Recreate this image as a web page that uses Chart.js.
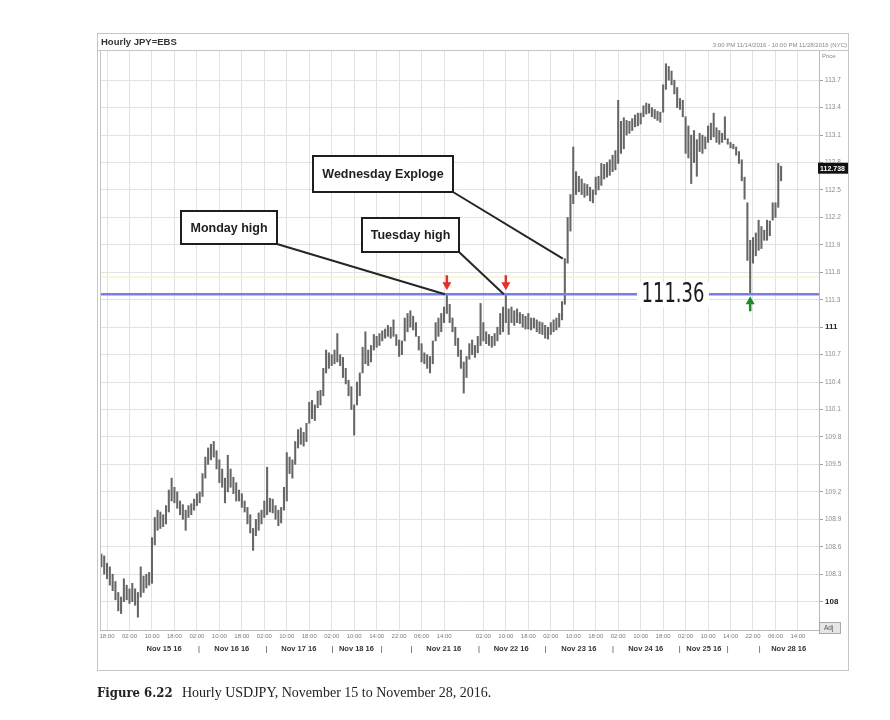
<!DOCTYPE html>
<html lang="en">
<head>
  <meta charset="UTF-8"/>
  <title>Hourly USDJPY</title>
  <script src="https://cdn.jsdelivr.net/npm/chart.js"></script>
  <style>
    body { margin: 0; background: #fff; }
    #wrap { position: relative; width: 890px; height: 720px; }
  </style>
</head>
<body>
  <div id="wrap"><canvas id="chart" width="890" height="720"></canvas></div>

  <script>
    // Hourly bars, 3:00 PM 11/14/2016 onwards (index = bar number)
    const highs = [
      108.55,108.52,108.50,108.42,108.38,108.30,108.22,108.10,108.05,108.25, // 0
      108.18,108.14,108.20,108.14,108.10,108.38,108.28,108.30,108.32,108.70, // 10
      108.92,109.00,108.98,108.95,109.05,109.22,109.35,109.25,109.20,109.10, // 20
      109.06,109.00,109.05,109.07,109.12,109.18,109.20,109.40,109.58,109.68, // 30
      109.72,109.75,109.65,109.55,109.45,109.35,109.60,109.45,109.36,109.30, // 40
      109.22,109.18,109.10,109.03,108.95,108.80,108.90,108.97,109.00,109.10, // 50
      109.47,109.13,109.12,109.05,109.00,109.03,109.25,109.63,109.58,109.55, // 60
      109.75,109.88,109.90,109.85,109.95,110.18,110.20,110.15,110.30,110.31, // 70
      110.55,110.75,110.72,110.70,110.75,110.93,110.70,110.67,110.55,110.42, // 80
      110.35,110.15,110.40,110.50,110.78,110.95,110.75,110.80,110.92,110.90, // 90
      110.93,110.96,110.98,111.02,111.00,111.08,110.92,110.86,110.85,111.10, // 100
      111.15,111.18,111.12,111.05,110.90,110.82,110.72,110.70,110.68,110.85, // 110
      111.05,111.10,111.15,111.22,111.36,111.25,111.10,111.00,110.88,110.75, // 120
      110.62,110.68,110.82,110.86,110.80,110.90,111.26,111.05,110.95,110.92, // 130
      110.90,110.93,111.00,111.15,111.22,111.36,111.20,111.22,111.18,111.20, // 140
      111.16,111.14,111.12,111.15,111.10,111.10,111.08,111.06,111.05,111.02, // 150
      111.00,111.05,111.08,111.10,111.15,111.28,111.75,112.20,112.45,112.97, // 160
      112.70,112.65,112.62,112.57,112.56,112.53,112.50,112.64,112.65,112.79, // 170
      112.78,112.80,112.83,112.88,112.93,113.48,113.25,113.29,113.26,113.25, // 180
      113.28,113.32,113.34,113.34,113.42,113.45,113.44,113.40,113.38,113.36, // 190
      113.35,113.65,113.88,113.85,113.80,113.70,113.62,113.50,113.48,113.30, // 200
      113.20,113.10,113.15,113.05,113.12,113.10,113.08,113.20,113.23,113.34, // 210
      113.18,113.15,113.12,113.30,113.06,113.02,113.00,112.97,112.92,112.83, // 220
      112.64,112.36,111.95,111.98,112.03,112.17,112.10,112.06,112.17,112.16, // 230
      112.36,112.36,112.79,112.76                                            // 240
    ];
    const lows = [
      108.42,108.38,108.30,108.25,108.18,108.12,108.02,107.90,107.87,108.00, // 0
      108.02,107.98,108.00,107.96,107.83,108.05,108.10,108.15,108.18,108.20, // 10
      108.62,108.78,108.80,108.82,108.85,108.98,109.10,109.08,109.02,108.95, // 20
      108.90,108.78,108.92,108.95,109.00,109.05,109.08,109.15,109.35,109.50, // 30
      109.55,109.58,109.45,109.30,109.25,109.08,109.20,109.25,109.18,109.10, // 40
      109.10,109.03,108.98,108.85,108.75,108.56,108.72,108.78,108.85,108.92, // 50
      108.95,108.98,108.97,108.90,108.83,108.86,109.00,109.10,109.40,109.35, // 60
      109.50,109.68,109.72,109.70,109.75,109.95,110.00,109.98,110.12,110.15, // 70
      110.25,110.50,110.55,110.58,110.60,110.62,110.58,110.45,110.38,110.25, // 80
      110.10,109.82,110.15,110.25,110.50,110.60,110.58,110.62,110.75,110.78, // 90
      110.80,110.85,110.88,110.90,110.88,110.90,110.80,110.68,110.70,110.85, // 100
      110.95,111.00,110.97,110.90,110.75,110.62,110.60,110.55,110.50,110.60, // 110
      110.85,110.90,110.95,111.05,111.15,111.05,110.95,110.80,110.68,110.55, // 120
      110.28,110.45,110.65,110.70,110.67,110.72,110.80,110.85,110.82,110.80, // 130
      110.78,110.80,110.85,110.92,110.95,111.05,110.92,111.05,111.02,111.05, // 140
      111.04,111.00,110.98,110.98,110.97,110.99,110.95,110.93,110.92,110.88, // 150
      110.87,110.92,110.95,110.97,111.00,111.08,111.25,111.70,112.05,112.35, // 160
      112.45,112.48,112.45,112.42,112.44,112.38,112.36,112.45,112.50,112.55, // 170
      112.62,112.64,112.66,112.70,112.72,112.79,112.90,112.95,113.10,113.12, // 180
      113.15,113.19,113.20,113.22,113.30,113.33,113.34,113.30,113.28,113.26, // 190
      113.24,113.35,113.60,113.70,113.65,113.55,113.40,113.38,113.30,112.90, // 200
      112.85,112.57,112.80,112.65,112.92,112.90,112.95,113.02,113.05,113.08, // 210
      113.02,113.00,113.02,113.05,113.00,112.96,112.95,112.88,112.79,112.60, // 220
      112.40,111.73,111.36,111.70,111.78,111.84,111.86,111.95,111.95,112.00, // 230
      112.17,112.20,112.31,112.60                                            // 240
    ];

    const levelPrice = 111.36;   // blue support line
    const guidePrice = 111.55;   // faint yellow line
    const lastPrice = '112.738';

    // price axis
    const yTicks = [108,108.3,108.6,108.9,109.2,109.5,109.8,110.1,110.4,110.7,
                    111,111.3,111.6,111.9,112.2,112.5,112.8,113.1,113.4,113.7];

    // time axis (bar numbers and their labels)
    const timeTickBars = [3,11,19,27,35,43,51,59,67,75,83,91,99,107,115,123,
                          137,145,153,161,169,177,185,193,201,209,217,225,233,241,249];
    const timeTickLabels = ['18:00','02:00','10:00','18:00','02:00','10:00','18:00','02:00',
                            '10:00','18:00','02:00','10:00','14:00','22:00','06:00','14:00',
                            '02:00','10:00','18:00','02:00','10:00','18:00','02:00','10:00',
                            '18:00','02:00','10:00','14:00','22:00','06:00','14:00'];

    // date row
    const dateLabels = ['Nov 15 16','Nov 16 16','Nov 17 16','Nov 18 16','Nov 21 16',
                        'Nov 22 16','Nov 23 16','Nov 24 16','Nov 25 16','Nov 28 16'];
    const dateLabelBars = [23.3,47.4,71.3,91.8,122.9,146.9,171,194.8,215.5,245.7];
    const daySeparators = [35.7,59.8,83.3,100.8,111.4,135.4,159.1,183.1,206.9,224,235.4];

    // callouts
    const callouts = [
      { text: 'Monday high',       bar: 124 },
      { text: 'Tuesday high',      bar: 145 },
      { text: 'Wednesday Exploge', bar: 166 }
    ];
    const calloutBoxes = [[181,211,96,33],[362,218,97,34],[313,156,140,36]];
    const redArrowBars = [124, 145];
    const greenArrowBar = 232;

    const bars = highs.map((h, i) => ({ x: i, y: [lows[i], h] }));

    const dateTicks = daySeparators.map(v => ({ v, label: '|', sep: true }))
      .concat(dateLabels.map((l, i) => ({ v: dateLabelBars[i], label: l, sep: false })))
      .sort((a, b) => a.v - b.v);

    const FONT = "'Liberation Sans', Arial, sans-serif";
    const isMajor = ctx => !!(ctx && ctx.tick && Math.abs(ctx.tick.value % 3) < 1e-6);

    function arrow(c, x, yTip, dir, color) {
      // dir 1 = points down, -1 = points up
      c.save();
      c.fillStyle = color; c.strokeStyle = color; c.lineWidth = 2.5;
      c.beginPath();
      c.moveTo(x, yTip - dir * 15); c.lineTo(x, yTip - dir * 7); c.stroke();
      c.beginPath();
      c.moveTo(x, yTip); c.lineTo(x - 4.5, yTip - dir * 8); c.lineTo(x + 4.5, yTip - dir * 8);
      c.closePath(); c.fill();
      c.restore();
    }

    const overlay = {
      id: 'overlay',
      beforeDraw(chart) {
        const c = chart.ctx;
        c.save();
        c.fillStyle = '#fff';
        c.fillRect(0, 0, chart.width, chart.height);
        c.restore();
      },
      afterDatasetsDraw(chart) {
        const c = chart.ctx, xs = chart.scales.x, ys = chart.scales.y;
        const yLevel = ys.getPixelForValue(levelPrice);

        // level label breaking the blue line
        c.save();
        c.fillStyle = '#fff';
        c.fillRect(637, yLevel - 12, 72, 25);
        c.font = "26px 'Liberation Sans Narrow', 'DejaVu Sans Condensed', sans-serif";
        c.fillStyle = '#1a1a1a';
        c.textAlign = 'center'; c.textBaseline = 'middle';
        const w = c.measureText(levelPrice.toFixed(2)).width;
        const k = Math.min(1, 63 / w);
        c.translate(673, yLevel + 1);
        c.scale(k, 1);
        c.fillText(levelPrice.toFixed(2), 0, 0);
        c.restore();

        // leader lines then boxes
        c.save();
        c.strokeStyle = '#262626'; c.lineWidth = 2;
        callouts.forEach((co, i) => {
          const [bx, by, bw, bh] = calloutBoxes[i];
          c.beginPath();
          c.moveTo(bx + bw, by + bh);
          c.lineTo(xs.getPixelForValue(co.bar) - 2, ys.getPixelForValue(highs[co.bar]));
          c.stroke();
        });
        callouts.forEach((co, i) => {
          const [bx, by, bw, bh] = calloutBoxes[i];
          c.fillStyle = '#fff';
          c.fillRect(bx, by, bw, bh);
          c.strokeStyle = '#1e1e1e';
          c.strokeRect(bx, by, bw, bh);
          c.fillStyle = '#1e1e1e';
          c.font = "bold 12.5px " + FONT;
          c.textAlign = 'center'; c.textBaseline = 'middle';
          c.fillText(co.text, bx + bw / 2, by + bh / 2 + 1);
        });
        c.restore();

        redArrowBars.forEach(b => arrow(c, xs.getPixelForValue(b), yLevel - 4, 1, '#e2302a'));
        arrow(c, xs.getPixelForValue(greenArrowBar), yLevel + 2, -1, '#1e8a2a');
      },
      afterDraw(chart) {
        const c = chart.ctx, a = chart.chartArea, ys = chart.scales.y;
        c.save();
        // outer frame and plot edges
        c.strokeStyle = '#c6c6c6'; c.lineWidth = 1;
        c.strokeRect(97.5, 33.5, 751, 637);
        c.beginPath();
        c.moveTo(97.5, a.top + 0.5); c.lineTo(848.5, a.top + 0.5);
        c.moveTo(a.left + 0.5, a.top); c.lineTo(a.left + 0.5, a.bottom);
        c.stroke();

        // header
        c.fillStyle = '#333';
        c.font = "bold 9.5px " + FONT;
        c.textBaseline = 'middle';
        c.fillText('Hourly JPY=EBS', 101, 42);
        c.fillStyle = '#888';
        c.font = "6px " + FONT;
        c.textAlign = 'right';
        c.fillText('3:00 PM 11/14/2016 - 10:00 PM 11/28/2016 (NYC)', 847, 45);
        c.textAlign = 'left';
        c.fillText('Price', 822, 56);

        // last price box
        const yl = ys.getPixelForValue(parseFloat(lastPrice));
        c.fillStyle = '#111';
        c.fillRect(818, yl - 5.5, 30, 11);
        c.fillStyle = '#fff';
        c.font = "bold 7px " + FONT;
        c.fillText(lastPrice, 820, yl + 0.5);

        // Adj button
        c.fillStyle = '#e6e6e6';
        c.fillRect(819, 622, 21, 11);
        c.strokeStyle = '#a8a8a8';
        c.strokeRect(819.5, 622.5, 21, 11);
        c.fillStyle = '#555';
        c.font = "6.5px " + FONT;
        c.fillText('Adj', 824, 628);

        // caption
        c.fillStyle = '#222';
        c.textBaseline = 'alphabetic';
        c.font = "bold 13px 'DejaVu Serif Condensed', 'Liberation Serif', serif";
        c.fillText('Figure 6.22', 97, 697);
        c.font = "14px 'Liberation Serif', serif";
        c.fillText('Hourly USDJPY, November 15 to November 28, 2016.', 182, 697);
        c.restore();
      }
    };

    new Chart(document.getElementById('chart'), {
      type: 'bar',
      data: {
        datasets: [
          { type: 'line', data: [{ x: 0.5, y: guidePrice }, { x: 256.5, y: guidePrice }],
            borderColor: '#f2eec0', borderWidth: 1, pointRadius: 0, order: 3 },
          { data: bars, backgroundColor: '#666', barThickness: 1.4, order: 2 },
          { type: 'line', data: [{ x: 0.5, y: levelPrice }, { x: 256.5, y: levelPrice }],
            borderColor: '#7b7af0', borderWidth: 2.5, pointRadius: 0, order: 1 }
        ]
      },
      options: {
        responsive: false, animation: false,
        layout: { padding: { left: 100, top: 50, right: 31, bottom: 62 } },
        plugins: { legend: { display: false }, tooltip: { enabled: false } },
        scales: {
          x: {
            type: 'linear', position: 'bottom', min: 0.5, max: 256.5, weight: 0, offset: false,
            afterBuildTicks: s => { s.ticks = timeTickBars.map(v => ({ value: v })); },
            afterFit: s => { s.height = 12; },
            ticks: {
              autoSkip: false, maxRotation: 0, padding: 3, color: '#7a7a7a',
              font: { size: 6, family: FONT },
              callback: (v, i) => timeTickLabels[i]
            },
            grid: { color: '#e2e2e2', drawTicks: false, offset: false },
            border: { color: '#b8b8b8' }
          },
          xd: {
            type: 'linear', axis: 'x', position: 'bottom', min: 0.5, max: 256.5, weight: 1, offset: false,
            afterBuildTicks: s => { s.ticks = dateTicks.map(t => ({ value: t.v })); },
            afterFit: s => { s.height = 16; },
            ticks: {
              autoSkip: false, maxRotation: 0, padding: 2, color: '#333',
              font: ctx => {
                const t = ctx && ctx.index !== undefined ? dateTicks[ctx.index] : null;
                return { size: 7.5, weight: t && !t.sep ? 'bold' : 'normal', family: FONT };
              },
              callback: (v, i) => (dateTicks[i] ? dateTicks[i].label : '')
            },
            grid: { display: false, drawTicks: false, offset: false },
            border: { display: false }
          },
          y: {
            type: 'linear', position: 'right', min: 107.69, max: 114.03,
            afterBuildTicks: s => { s.ticks = yTicks.map(v => ({ value: v })); },
            afterFit: s => { s.width = 40; },
            ticks: {
              padding: 2,
              color: ctx => (isMajor(ctx) ? '#222' : '#8a8a8a'),
              font: ctx => (isMajor(ctx)
                ? { size: 8, weight: 'bold', family: FONT }
                : { size: 6.5, family: FONT }),
              callback: v => String(v)
            },
            grid: { color: '#e2e2e2', tickLength: 4, tickColor: '#a0a0a0' },
            border: { color: '#b8b8b8' }
          }
        }
      },
      plugins: [overlay]
    });
  </script>
</body>
</html>
